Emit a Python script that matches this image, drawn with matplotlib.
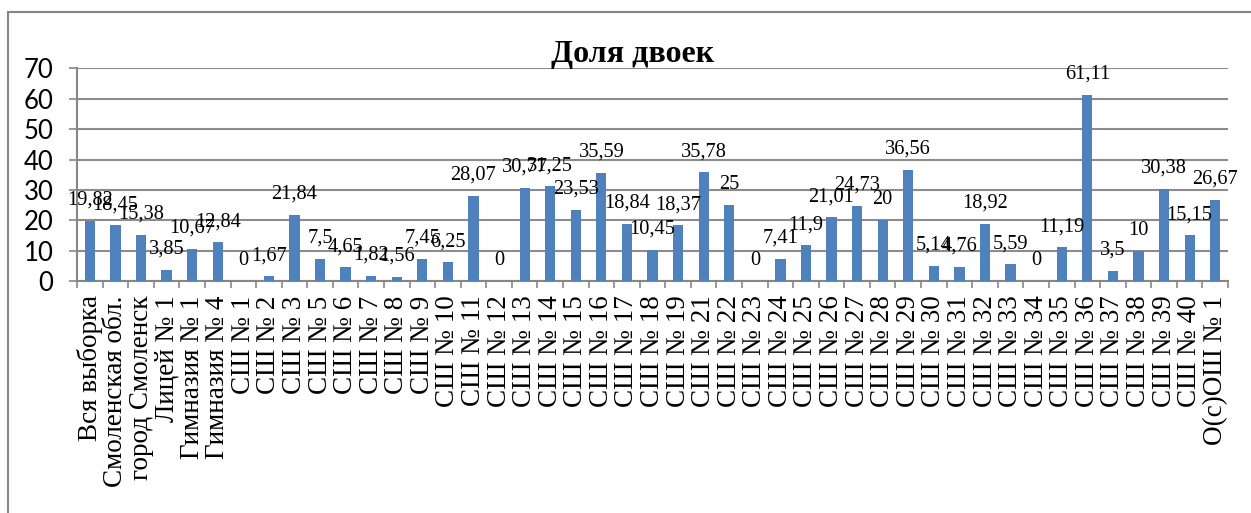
import matplotlib.pyplot as plt
from matplotlib.patches import Rectangle

categories = ["Вся выборка", "Смоленская обл.", "город Смоленск", "Лицей № 1",
              "Гимназия № 1", "Гимназия № 4", "СШ № 1", "СШ № 2", "СШ № 3",
              "СШ № 5", "СШ № 6", "СШ № 7", "СШ № 8", "СШ № 9", "СШ № 10",
              "СШ № 11", "СШ № 12", "СШ № 13", "СШ № 14", "СШ № 15", "СШ № 16",
              "СШ № 17", "СШ № 18", "СШ № 19", "СШ № 21", "СШ № 22", "СШ № 23",
              "СШ № 24", "СШ № 25", "СШ № 26", "СШ № 27", "СШ № 28", "СШ № 29",
              "СШ № 30", "СШ № 31", "СШ № 32", "СШ № 33", "СШ № 34", "СШ № 35",
              "СШ № 36", "СШ № 37", "СШ № 38", "СШ № 39", "СШ № 40", "О(с)ОШ № 1"]
values = [19.82, 18.45, 15.38, 3.85, 10.67, 12.84, 0, 1.67, 21.84, 7.5, 4.65,
          1.82, 1.56, 7.45, 6.25, 28.07, 0, 30.77, 31.25, 23.53, 35.59, 18.84,
          10.45, 18.37, 35.78, 25, 0, 7.41, 11.9, 21.01, 24.73, 20, 36.56, 5.14,
          4.76, 18.92, 5.59, 0, 11.19, 61.11, 3.5, 10, 30.38, 15.15, 26.67]
yticks = [0, 10, 20, 30, 40, 50, 60, 70]

plt.rcParams['font.family'] = ['Liberation Serif', 'DejaVu Serif']

fig = plt.figure(figsize=(12.51, 5.13), dpi=100)
ax = fig.add_axes([0.0616, 0.4513, 0.920, 0.4161])

# chart frame
fig.patches.append(Rectangle((8 / 1251, -0.2), 1.5, 0.2 + 1 - 12 / 513,
                             transform=fig.transFigure, fill=False,
                             edgecolor='#868686', linewidth=1.5))

x = list(range(len(categories)))
ax.bar(x, values, width=0.4, color='#4F81BD', zorder=3)
for xi, v in zip(x, values):
    label = f"{v:g}".replace('.', ',')
    ax.annotate(label, (xi, v), xytext=(0, 8), textcoords='offset points',
                ha='center', va='bottom', fontsize=14.7, zorder=4)

ax.set_xlim(-0.5, len(categories) - 0.5)
ax.set_ylim(0, 70)
ax.set_yticks(yticks)
ax.tick_params(axis='y', labelsize=18.5, length=6, pad=11, color='#868686', width=1.2)
for t in ax.get_yticklabels():
    t.set_family(['Lato', 'DejaVu Sans'])
ax.yaxis.grid(True, color='#8c8c8c', linewidth=1.5, zorder=0)

ax.set_xticks(x)
ax.set_xticklabels(categories, rotation=90, fontsize=19.5)
ax.set_xticks([i - 0.5 for i in range(len(categories) + 1)], minor=True)
ax.tick_params(axis='x', which='major', length=0, pad=10)
ax.tick_params(axis='x', which='minor', length=5, color='#868686', width=1.2)

for s in ['top', 'right']:
    ax.spines[s].set_visible(False)
for s in ['left', 'bottom']:
    ax.spines[s].set_color('#868686')
    ax.spines[s].set_linewidth(1.5)

fig.text(633 / 1251, 1 - 62 / 513, 'Доля двоек', ha='center', va='baseline',
         fontsize=23, fontweight='bold')

fig.savefig('out.png', dpi=100)
